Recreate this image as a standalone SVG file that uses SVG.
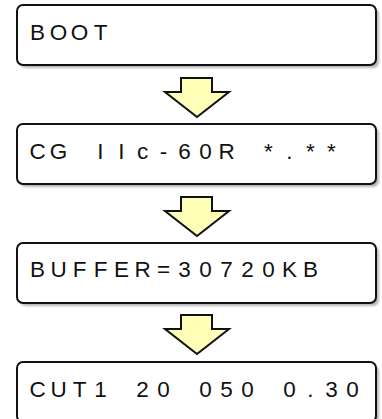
<svg xmlns="http://www.w3.org/2000/svg" width="382" height="419" viewBox="0 0 382 419">
<style>
.box{fill:#fff;stroke:#111;stroke-width:2}
.shadow{fill:#b5b5b5}
.arrow{fill:#ffffb8;stroke:#111;stroke-width:2;stroke-linejoin:miter}
.lbl{font-family:"Liberation Sans",Arial,sans-serif;font-size:22.5px;fill:#111;text-anchor:middle}
</style>
<defs>
<filter id="blur" x="-5%" y="-10%" width="110%" height="130%"><feGaussianBlur stdDeviation="1"/></filter>
</defs>
<rect width="382" height="419" fill="#fff"/>
<g id="connectors">
<path class="arrow" d="M181,78 H212 V92 H229 L197,117 L165,92 H181 Z"/>
<path class="arrow" d="M181,197 H212 V211 H229 L197,236 L165,211 H181 Z"/>
<path class="arrow" d="M181,315 H212 V329 H229 L197,354 L165,329 H181 Z"/>
</g>
<g id="node-boot">
<rect class="shadow" x="20" y="8" width="359" height="60" rx="6" filter="url(#blur)"/>
<rect class="box" x="17" y="5" width="359" height="60" rx="6"/>
<text class="lbl" x="37.5 58.5 79.5 100.5" y="40">BOOT</text>
</g>
<g id="node-version">
<rect class="shadow" x="20" y="127" width="359" height="60" rx="6" filter="url(#blur)"/>
<rect class="box" x="17" y="124" width="359" height="60" rx="6"/>
<text class="lbl" x="37.5 58.5 79.5 100.5 121.5 142.5 163.5 184.5 205.5 226.5 247.5 268.5 289.5 310.5 331.5" y="159">CG IIc-60R *.**</text>
</g>
<g id="node-buffer">
<rect class="shadow" x="20" y="246" width="359" height="60" rx="6" filter="url(#blur)"/>
<rect class="box" x="17" y="243" width="359" height="60" rx="6"/>
<text class="lbl" x="37.5 58.5 79.5 100.5 121.5 142.5 163.5 184.5 205.5 226.5 247.5 268.5 289.5 310.5" y="277">BUFFER=30720KB</text>
</g>
<g id="node-cut">
<rect class="shadow" x="20" y="365" width="359" height="60" rx="6" filter="url(#blur)"/>
<rect class="box" x="17" y="362" width="359" height="60" rx="6"/>
<text class="lbl" x="37.5 58.5 79.5 100.5 121.5 142.5 163.5 184.5 205.5 226.5 247.5 268.5 289.5 310.5 331.5 352.5" y="397">CUT1 20 050 0.30</text>
</g>
</svg>
